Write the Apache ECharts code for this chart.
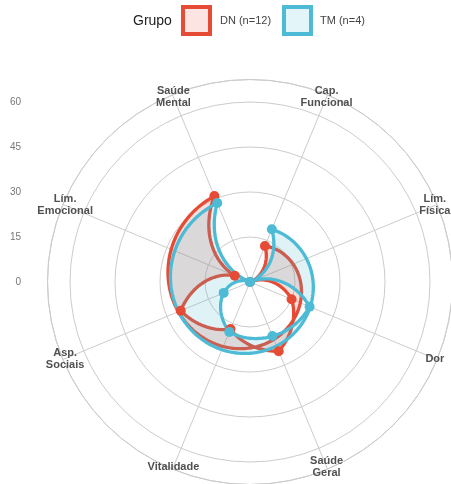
<!DOCTYPE html>
<html><head><meta charset="utf-8">
<script src="https://cdn.jsdelivr.net/npm/echarts@6/dist/echarts.min.js"></script>
<style>html,body{margin:0;padding:0;background:#fff}#c{width:451px;height:484px}</style>
</head><body><div id="c"></div>
<script>
const categories = ['Cap.\nFuncional','Lím.\nFísica','Dor','Saúde\nGeral','Vitalidade','Asp.\nSociais','Lím.\nEmocional','Saúde\nMental'];
const dnValues = [13, 0, 15, 25, 17, 25, 5.5, 31];
const tmValues = [19, 0, 21.5, 19.5, 18, 9.5, 0, 28.5];
const radialTicks = [0, 15, 30, 45, 60];
const groupNames = ['DN (n=12)', 'TM (n=4)'];
const groupColors = ['#E64B35', '#4DBBD5'];
const groupFills = ['rgba(230,75,53,0.18)', 'rgba(77,187,213,0.18)'];
const keyFills = ['rgba(230,75,53,0.15)', 'rgba(77,187,213,0.15)'];

const FONT = '"Liberation Sans", Arial, Helvetica, sans-serif';
const chart = echarts.init(document.getElementById('c'), null, {renderer: 'canvas'});

// ggplot coord_polar style path: linear in (angle, radius) between consecutive data rows,
// with the closing row going back to the first category.
function polarPath(api, values) {
  const seq = values.map((v, i) => [v, i]).concat([[values[0], 0]]);
  const pts = [];
  for (let k = 0; k < seq.length - 1; k++) {
    const a = seq[k], b = seq[k + 1];
    const steps = Math.max(10, Math.round(Math.abs(b[1] - a[1]) * 30));
    for (let s = 0; s < steps; s++) {
      const t = s / steps;
      pts.push(api.coord([a[0] + (b[0] - a[0]) * t, a[1] + (b[1] - a[1]) * t]));
    }
  }
  pts.push(api.coord(seq[seq.length - 1]));
  return pts;
}

function polySeries(values, g, z) {
  return {
    type: 'custom', coordinateSystem: 'polar', polarIndex: 0, z: z, silent: true,
    data: [[values[0], 0]],
    renderItem: function (params, api) {
      return {
        type: 'polygon',
        shape: {points: polarPath(api, values)},
        style: {fill: groupFills[g], stroke: groupColors[g], lineWidth: 3.3, lineJoin: 'round'}
      };
    }
  };
}

function pointSeries(values, g, z) {
  return {
    type: 'scatter', coordinateSystem: 'polar', polarIndex: 0, z: z, silent: true,
    symbol: 'circle', symbolSize: 10,
    itemStyle: {color: groupColors[g], opacity: 1},
    data: values.map((v, i) => [v, i])
  };
}

const labelRadius = 66.7;
const labelSeries = {
  type: 'custom', coordinateSystem: 'polar', polarIndex: 0, z: 10, silent: true,
  data: categories.map((c, i) => [labelRadius, i]),
  renderItem: function (params, api) {
    const p = api.coord([api.value(0), api.value(1)]);
    return {
      type: 'text', x: p[0], y: p[1],
      style: {
        text: categories[params.dataIndex], fill: '#505050',
        font: 'bold 11px ' + FONT, align: 'center', verticalAlign: 'middle', lineHeight: 12
      }
    };
  }
};

const graphic = [
  {type: 'text', x: 133, y: 21, style: {text: 'Grupo', fill: '#222', font: '14px ' + FONT, verticalAlign: 'middle'}},
  {type: 'rect', shape: {x: 183, y: 7, width: 27, height: 27}, style: {fill: keyFills[0], stroke: groupColors[0], lineWidth: 4}},
  {type: 'text', x: 220, y: 21, style: {text: groupNames[0], fill: '#444', font: '11px ' + FONT, verticalAlign: 'middle'}},
  {type: 'rect', shape: {x: 284, y: 7, width: 27, height: 27}, style: {fill: keyFills[1], stroke: groupColors[1], lineWidth: 4}},
  {type: 'text', x: 320, y: 21, style: {text: groupNames[1], fill: '#444', font: '11px ' + FONT, verticalAlign: 'middle'}}
];

const gridColor = '#cccccc';
chart.setOption({
  animation: false,
  backgroundColor: '#ffffff',
  graphic: graphic,
  polar: {center: [250, 282], radius: 202.5},
  angleAxis: {
    type: 'value', min: 0, max: categories.length, interval: 1,
    startAngle: 67.5, clockwise: true,
    axisLine: {show: true, lineStyle: {color: gridColor, width: 1}},
    axisTick: {show: false}, axisLabel: {show: false},
    splitLine: {show: true, lineStyle: {color: gridColor, width: 1}}
  },
  radiusAxis: {
    type: 'value', min: 0, max: 67.5, interval: 15,
    axisLine: {show: false}, axisTick: {show: false}, axisLabel: {show: false},
    splitLine: {show: true, lineStyle: {color: gridColor, width: 1}}
  },
  grid: {left: 22, top: 102, width: 1, height: 180},
  xAxis: {type: 'value', show: false, min: 0, max: 1},
  yAxis: {
    type: 'value', min: radialTicks[0], max: radialTicks[radialTicks.length - 1],
    interval: radialTicks[1] - radialTicks[0],
    axisLine: {show: false}, axisTick: {show: false}, splitLine: {show: false},
    axisLabel: {color: '#777777', fontSize: 10, fontFamily: FONT, margin: 1}
  },
  series: [
    polySeries(dnValues, 0, 2),
    polySeries(tmValues, 1, 3),
    pointSeries(dnValues, 0, 4),
    pointSeries(tmValues, 1, 5),
    labelSeries,
    {type: 'scatter', xAxisIndex: 0, yAxisIndex: 0, data: [], silent: true}
  ]
});
</script></body></html>
